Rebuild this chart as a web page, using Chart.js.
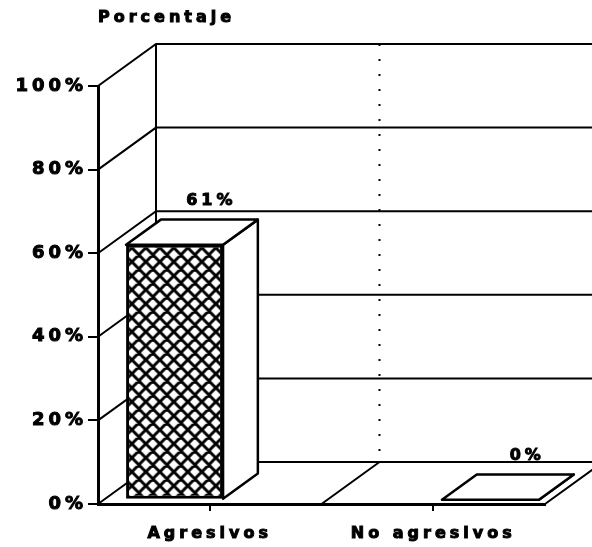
<!DOCTYPE html>
<html>
<head>
<meta charset="utf-8">
<script src="https://cdn.jsdelivr.net/npm/chart.js@4.4.1/dist/chart.umd.min.js"></script>
<style>
  html, body { margin: 0; padding: 0; background: #fff; }
  #wrap { width: 592px; height: 547px; }
</style>
</head>
<body>
<div id="wrap"><canvas id="chart"></canvas></div>
<script>
const categories = ['Agresivos', 'No agresivos'];
const percentages = [61, 0];
const yTicks = [0, 20, 40, 60, 80, 100];
const axisTitle = 'Porcentaje';

// fake 3D box: depth vector, and where the bars sit inside it (0 = front, 1 = back)
const depth = { x: 58, y: -42 };
const barFront = 0.1, barBack = 0.7;
const font = 'DejaVu Sans';
const spacing = '4px';

function crossHatch(ctx) {
    const size = 14;
    const c = document.createElement('canvas');
    c.width = size;
    c.height = size;
    const g = c.getContext('2d');
    g.fillStyle = '#fff';
    g.fillRect(0, 0, size, size);
    g.strokeStyle = '#000';
    g.lineWidth = 3;
    g.beginPath();
    for (let k = -1; k <= 1; k++) {
        g.moveTo(k * size, 0);
        g.lineTo(k * size + size, size);
        g.moveTo(k * size + size, 0);
        g.lineTo(k * size, size);
    }
    g.stroke();
    return ctx.createPattern(c, 'repeat');
}

function heavyText(ctx, text, x, y) {
    ctx.fillText(text, x, y);
    ctx.strokeText(text, x, y);
}

const box3d = {
    id: 'box3d',
    beforeDraw(chart) {
        chart.ctx.letterSpacing = spacing;
    },
    beforeDatasetsDraw(chart) {
        const { ctx, chartArea: a, scales } = chart;
        const y = scales.y;
        const mid = scales.x.getPixelForValue(0.5);
        ctx.save();
        ctx.strokeStyle = '#000';
        ctx.lineWidth = 2;
        ctx.beginPath();
        // left wall diagonals + back wall gridlines
        yTicks.forEach(v => {
            const py = y.getPixelForValue(v);
            ctx.moveTo(a.left, py);
            ctx.lineTo(a.left + depth.x, py + depth.y);
            ctx.lineTo(a.right + depth.x, py + depth.y);
        });
        ctx.moveTo(a.left + depth.x, a.top + depth.y);
        ctx.lineTo(a.left + depth.x, a.bottom + depth.y);
        // floor
        ctx.moveTo(a.right, a.bottom);
        ctx.lineTo(a.right + depth.x, a.bottom + depth.y);
        ctx.moveTo(mid, a.bottom);
        ctx.lineTo(mid + depth.x, a.bottom + depth.y);
        ctx.stroke();
        // dotted divider on back wall
        ctx.beginPath();
        ctx.setLineDash([2, 13]);
        ctx.moveTo(mid + depth.x, a.top + depth.y);
        ctx.lineTo(mid + depth.x, a.bottom + depth.y);
        ctx.stroke();
        ctx.setLineDash([]);

        // side and top faces of each bar
        const f = { x: barFront * depth.x, y: barFront * depth.y };
        const s = { x: (barBack - barFront) * depth.x, y: (barBack - barFront) * depth.y };
        ctx.fillStyle = '#fff';
        ctx.lineWidth = 2.5;
        ctx.lineJoin = 'round';
        chart.getDatasetMeta(0).data.forEach(el => {
            const x1 = el.x - el.width / 2 + f.x, x2 = el.x + el.width / 2 + f.x;
            const yt = el.y + f.y, yb = el.base + f.y;
            ctx.beginPath();
            ctx.moveTo(x2, yt);
            ctx.lineTo(x2 + s.x, yt + s.y);
            ctx.lineTo(x2 + s.x, yb + s.y);
            ctx.lineTo(x2, yb);
            ctx.closePath();
            ctx.fill();
            ctx.stroke();
            ctx.beginPath();
            ctx.moveTo(x1, yt);
            ctx.lineTo(x2, yt);
            ctx.lineTo(x2 + s.x, yt + s.y);
            ctx.lineTo(x1 + s.x, yt + s.y);
            ctx.closePath();
            ctx.fill();
            ctx.stroke();
        });
        ctx.restore();
        // front faces drawn by Chart.js, pushed a little into the box
        ctx.save();
        ctx.translate(f.x, f.y);
    },
    afterDatasetsDraw(chart) {
        const ctx = chart.ctx;
        ctx.restore();
        ctx.save();
        ctx.fillStyle = '#000';
        ctx.strokeStyle = '#000';
        ctx.lineWidth = 1;
        ctx.textBaseline = 'middle';
        ctx.font = 'bold 16px "' + font + '"';
        ctx.textAlign = 'center';
        chart.getDatasetMeta(0).data.forEach((el, i) => {
            heavyText(ctx, percentages[i] + '%', el.x + barBack * depth.x + 2, el.y + barBack * depth.y - 19);
        });
        // axis title, above the value axis
        ctx.textAlign = 'left';
        heavyText(ctx, axisTitle, chart.chartArea.left, 18);
        ctx.restore();
    }
};

const ctx = document.getElementById('chart').getContext('2d');

new Chart(ctx, {
    type: 'bar',
    data: {
        labels: categories,
        datasets: [{
            data: percentages.map((v, i) => ({ x: i, y: v })),
            xAxisID: 'xb',
            yAxisID: 'y',
            backgroundColor: crossHatch(ctx),
            borderColor: '#000',
            borderWidth: 3,
            borderSkipped: false,
            categoryPercentage: 1,
            barPercentage: 0.307
        }]
    },
    options: {
        responsive: true,
        maintainAspectRatio: false,
        animation: false,
        layout: { padding: { left: 0, right: 47, top: 86, bottom: 0 } },
        plugins: {
            legend: { display: false },
            tooltip: { enabled: false },
            title: { display: false }
        },
        scales: {
            x: {
                type: 'category',
                offset: true,
                grid: { offset: false, drawOnChartArea: false, tickLength: 7, color: '#000', lineWidth: 2 },
                border: { color: '#000', width: 3 },
                ticks: {
                    color: '#000', font: { family: font, size: 16, weight: 'bold' },
                    textStrokeColor: '#000', textStrokeWidth: 1,
                    padding: 13, maxRotation: 0, autoSkip: false
                },
                afterFit: s => { s.height = 43; }
            },
            xb: {
                type: 'linear',
                display: false,
                offset: false,
                min: -0.224,
                max: 1.191,
                afterBuildTicks: s => { s.ticks = categories.map((c, i) => ({ value: i })); }
            },
            y: {
                min: 0,
                max: 100,
                afterBuildTicks: s => { s.ticks = yTicks.map(v => ({ value: v })); },
                grid: { drawOnChartArea: false, tickLength: 10, color: '#000', lineWidth: 2 },
                border: { color: '#000', width: 3 },
                ticks: {
                    color: '#000', font: { family: font, size: 18, weight: 'bold' },
                    textStrokeColor: '#000', textStrokeWidth: 1,
                    padding: 1, callback: v => v + '%'
                },
                afterFit: s => { s.width = 98; }
            }
        }
    },
    plugins: [box3d]
});
</script>
</body>
</html>
